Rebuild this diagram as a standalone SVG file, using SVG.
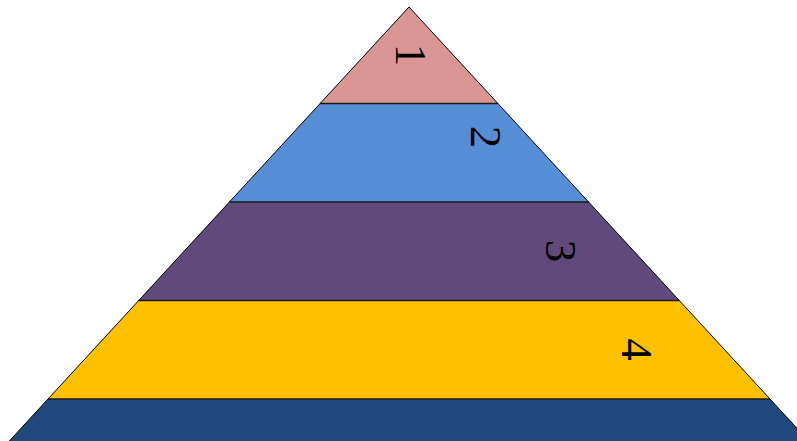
<svg xmlns="http://www.w3.org/2000/svg" width="797" height="441" viewBox="0 0 797 441">
<style>
.band{stroke:none}
.sep{stroke:#1a1a1a;stroke-width:1.6;fill:none}
.outline{stroke:#000;stroke-width:1;fill:none}
.num{font-family:"Liberation Serif","Times New Roman",serif;font-size:45px;fill:#000;text-anchor:middle}
</style>
<rect width="797" height="441" fill="#fff"/>
<g id="layer1"><polygon class="band" fill="#D99694" points="409,7 497.9,103.5 320.1,103.5"/>
<g transform="translate(411.5,55) rotate(90)"><text class="num" x="0" y="15.2">1</text></g></g>
<g id="layer2"><polygon class="band" fill="#558ED5" points="320.1,103.5 497.9,103.5 588.6,202 229.4,202"/>
<g transform="translate(486.5,137) rotate(90)"><text class="num" x="0" y="15.2">2</text></g></g>
<g id="layer3"><polygon class="band" fill="#604A7B" points="229.4,202 588.6,202 679.3,300.5 138.7,300.5"/>
<g transform="translate(561.5,251) rotate(90)"><text class="num" x="0" y="15.2">3</text></g></g>
<g id="layer4"><polygon class="band" fill="#FFC000" points="138.7,300.5 679.3,300.5 770,399 48,399"/>
<g transform="translate(637.5,349.5) rotate(90)"><text class="num" x="0" y="15.2">4</text></g></g>
<g id="layer5"><polygon class="band" fill="#1F497D" points="48,399 770,399 860.7,497.5 -42.7,497.5"/></g>
<g id="connectors">
<line class="sep" x1="320.1" y1="103.5" x2="497.9" y2="103.5"/>
<line class="sep" x1="229.4" y1="202" x2="588.6" y2="202"/>
<line class="sep" x1="138.7" y1="300.5" x2="679.3" y2="300.5"/>
<line class="sep" x1="48" y1="399" x2="770" y2="399"/>
<polyline class="outline" points="-42.7,497.5 409,7 860.7,497.5"/>
</g>
</svg>
